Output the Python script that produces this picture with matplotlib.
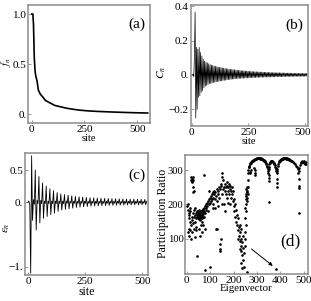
import matplotlib
matplotlib.use("Agg")
import matplotlib.pyplot as plt
import matplotlib.transforms as mtransforms

plt.rcParams['font.family'] = ['Liberation Serif', 'DejaVu Serif']
plt.rcParams['mathtext.fontset'] = 'stix'

# ---------------- data ----------------
# (a) f_n versus site
sites_a = [0, 5, 8, 12, 16, 20, 25, 31, 40, 52, 65, 87, 110, 135, 165, 197, 230, 268, 320, 380, 450, 500, 550]
f_a = [1.0, 1.0, 0.9, 0.55, 0.42, 0.37, 0.33, 0.24, 0.20, 0.17, 0.135, 0.11, 0.085, 0.073, 0.058,
       0.047, 0.038, 0.031, 0.025, 0.02, 0.015, 0.012, 0.01]

# (b) C_n versus site (sampled every 3 sites)
sites_b = list(range(0, 511, 3))
c_b = [0.0, 0.0, 0.005, -0.01, 0.10, 0.365, -0.25, 0.16, -0.20, 0.15, -0.13, 0.16, -0.12, 0.13,
       -0.10, 0.11, -0.09, 0.09, -0.075, 0.08, -0.065, 0.075, -0.06, 0.07, -0.055, 0.065, -0.05,
       0.06, -0.05, 0.058, -0.046, 0.055, -0.044, 0.052, -0.042, 0.05, -0.04, 0.048, -0.038,
       0.046, -0.037, 0.044, -0.035, 0.043, -0.034, 0.041, -0.032, 0.04, -0.031, 0.038, -0.03,
       0.037, -0.028, 0.035, -0.027, 0.034, -0.026, 0.033, -0.025, 0.032, -0.024, 0.031, -0.023,
       0.03, -0.022, 0.029, -0.021, 0.028, -0.021, 0.027, -0.02, 0.026, -0.02, 0.025, -0.019,
       0.025, -0.019, 0.024, -0.018, 0.023, -0.018, 0.023, -0.017, 0.022, -0.017, 0.021, -0.016,
       0.021, -0.016, 0.02, -0.015, 0.02, -0.015, 0.019, -0.015, 0.019, -0.014, 0.018, -0.014,
       0.018, -0.014, 0.017, -0.013, 0.017, -0.013, 0.016, -0.013, 0.016, -0.012, 0.016, -0.012,
       0.015, -0.012, 0.015, -0.012, 0.015, -0.011, 0.014, -0.011, 0.014, -0.011, 0.014, -0.011,
       0.013, -0.01, 0.013, -0.01, 0.013, -0.01, 0.013, -0.01, 0.012, -0.01, 0.012, -0.0095,
       0.012, -0.0095, 0.012, -0.009, 0.011, -0.009, 0.011, -0.009, 0.011, -0.009, 0.011, -0.0085,
       0.01, -0.0085, 0.01, -0.0085, 0.01, -0.008, 0.01, -0.008, 0.0095, -0.008, 0.0095, -0.008,
       0.0095, -0.0075, 0.009, -0.0075, 0.009, -0.0075, 0.009, -0.007, 0.009, -0.007, 0.0085, -0.007]

# (c) epsilon_n versus site (sampled every 4 sites)
sites_c = list(range(0, 521, 4))
eps_c = [0.0, 0.02, -0.04, -1.10, 0.72, -0.28, 0.04, -0.03,
         0.50, -0.43, 0.03, -0.02, 0.40, -0.32, 0.03, -0.02,
         0.30, -0.25, 0.02, -0.02, 0.25, -0.22, 0.02, -0.02,
         0.21, -0.19, 0.02, -0.02, 0.18, -0.17, 0.02, -0.02,
         0.15, -0.14, 0.02, -0.02, 0.13, -0.12, 0.02, -0.02,
         0.12, -0.11, 0.02, -0.015, 0.11, -0.10, 0.015, -0.015,
         0.10, -0.09, 0.015, -0.015, 0.09, -0.08, 0.015, -0.015,
         0.085, -0.075, 0.015, -0.015, 0.08, -0.07, 0.015, -0.015,
         0.075, -0.065, 0.015, -0.015, 0.07, -0.06, 0.015, -0.015,
         0.068, -0.058, 0.015, -0.015, 0.065, -0.055, 0.015, -0.015,
         0.062, -0.052, 0.015, -0.015, 0.06, -0.05, 0.015, -0.015,
         0.058, -0.048, 0.015, -0.015, 0.056, -0.046, 0.015, -0.015,
         0.055, -0.045, 0.015, -0.015, 0.053, -0.044, 0.015, -0.015,
         0.052, -0.043, 0.015, -0.015, 0.05, -0.042, 0.015, -0.015,
         0.05, -0.041, 0.015, -0.015, 0.048, -0.04, 0.015, -0.015,
         0.047, -0.04, 0.015, -0.015, 0.046, -0.039, 0.015, -0.015,
         0.045, -0.038, 0.015]

# (d) participation ratio versus eigenvector index
eig_d = [2, 4, 5, 6, 7, 8, 9, 10, 11, 12, 13, 14, 15, 16, 17, 18, 19, 20, 21, 22, 23, 24, 25, 26, 27,
         28, 29, 30, 31, 32, 33, 34, 35, 36, 37, 38, 39, 40, 42, 43, 44, 22, 26, 28,
         45, 46, 47, 48, 49, 50, 51, 52, 53, 54, 55, 56, 57, 58, 59, 60, 61, 62, 63, 64, 65, 66, 67,
         68, 69, 70, 71, 72, 73, 74, 75, 76, 77, 78, 79, 80, 50, 55, 60, 65,
         82, 84, 86, 88, 90, 92, 94, 96, 98, 100, 101, 102, 104, 106, 108, 110, 112, 114, 116, 118,
         120, 122, 124, 126, 128, 130, 132, 134, 136, 138, 140, 142, 144, 146, 148, 150, 151, 152,
         154, 156, 158, 160, 162, 164, 166, 168, 170, 172, 174, 176, 178, 180, 182, 184, 186, 188,
         190, 192, 194, 196, 198, 200, 96, 110, 120, 135, 145, 141, 130, 150, 165, 175, 185,
         202, 204, 206, 208, 210, 212, 214, 216, 218, 220, 222, 224, 226, 228, 230, 232, 234, 236,
         238, 240, 242, 236, 230, 226, 220, 228, 232, 240, 244,
         246, 248, 249, 250, 251, 252, 253, 254, 255, 256, 257, 258, 259, 260, 261, 262, 263, 264,
         265, 252, 254, 256, 258, 250, 253,
         266, 268, 270, 272, 274, 276, 278, 280, 282, 284, 286, 288, 290, 292, 294, 296, 298, 300,
         302, 304, 306, 308, 310, 312, 314, 316, 318, 320, 322, 324, 326, 328, 330, 332, 334, 336,
         338, 340, 342, 344, 346, 348, 350, 352, 354, 356, 358, 360, 362, 364, 366, 368, 370, 372,
         374, 376, 378, 380, 382, 384, 386, 388, 390, 392, 394, 396, 398, 400, 402, 404, 406, 408,
         410, 412, 414, 416, 418, 420, 422, 424, 426, 428, 430, 432, 434, 436, 438, 440, 444, 448,
         452, 456, 460, 464, 468, 472, 476, 479, 482, 485, 488, 491, 494, 497, 500, 503, 506, 509, 512,
         349, 350, 351, 352, 350, 386, 387, 386, 388, 478, 479, 480, 479, 480,
         288, 290, 291, 293, 270, 272, 274, 380]
pr_d = [195, 185, 200, 120, 170, 160, 130, 175, 110, 190, 150, 125, 180, 140, 280, 270, 100, 165,
        275, 155, 265, 120, 280, 250, 175, 145, 240, 130, 185, 165, 105, 170, 150, 190, 135, 160,
        175, 125, 50, 180, 165, 268, 272, 235,
        170, 160, 175, 165, 180, 158, 172, 162, 185, 168, 155, 178, 165, 170, 160, 182, 168, 175,
        160, 185, 170, 150, 178, 165, 188, 172, 140, 180, 285, 165, 190, 10, 175, 195, 130, 185,
        130, 110, 140, 120,
        200, 190, 205, 195, 210, 180, 215, 200, 220, 205, 18, 225, 210, 230, 215, 235, 220, 200,
        230, 240, 215, 235, 130, 225, 245, 210, 240, 230, 250, 220, 70, 245, 85, 255, 260, 290,
        280, 230, 270, 245, 250, 200, 240, 260, 230, 250, 220, 255, 265, 240, 250, 230, 260, 255,
        245, 240, 220, 250, 230, 210, 240, 195, 240, 190, 190, 195, 100, 65, 130, 200, 180, 205, 200,
        215, 180, 200, 165, 185, 150, 170, 140, 125, 160, 110, 135, 95, 120, 80, 100, 65, 90,
        55, 75, 40, 15, 30, 140, 100, 70, 130, 110, 60,
        20, 80, 120, 160, 100, 200, 140, 230, 180, 5, 220, 250, 240, 270, 230, 290, 300, 250,
        310, 215, 225, 210, 235, 190, 245,
        308, 313, 316, 319, 321, 323, 325, 326, 327, 328, 329, 330, 331, 331, 332, 333, 333, 334,
        334, 335, 334, 335, 334, 334, 333, 334, 333, 332, 332, 331, 330, 329, 328, 327, 325, 323,
        320, 317, 313, 308, 303, 298, 302, 310, 316, 320, 323, 325, 326, 326, 325, 324, 322, 320,
        317, 314, 310, 306, 302, 298, 296, 304, 312, 318, 322, 325, 327, 329, 330, 331, 332, 333,
        333, 334, 334, 335, 334, 335, 334, 334, 333, 334, 333, 332, 332, 331, 330, 330, 328, 327,
        325, 323, 320, 317, 313, 308, 302, 296, 305, 314, 320, 324, 326, 324, 321, 325, 318, 322, 316,
        292, 285, 278, 268, 208, 290, 275, 262, 252, 290, 275, 255, 248, 174,
        306, 300, 292, 286, 295, 290, 300, 14]

# ---------------- figure ----------------
W, H = 311, 301
fig = plt.figure(figsize=(W / 100, H / 100), dpi=100)

def box(x0, y0, x1, y1):
    return [x0 / W, 1 - y1 / H, (x1 - x0) / W, (y1 - y0) / H]

frame_col = '#8c8c8c'
TICK_FS = 8

def style(ax):
    for s in ax.spines.values():
        s.set_color(frame_col)
        s.set_linewidth(1.1)
    ax.tick_params(direction='in', length=2, width=0.6, color=frame_col,
                   labelsize=TICK_FS, pad=1.5, top=False, right=False)

# (a)
axa = fig.add_axes(box(28, 5, 150, 123))
axa.plot(sites_a, f_a, color='black', lw=1.2)
axa.set_xlim(-18, 561)
axa.set_ylim(-0.09, 1.09)
axa.set_xticks([0, 250, 500])
axa.set_yticks([0, 0.5, 1.0])
axa.set_yticklabels(['0.', '0.5', '1.0'])
axa.set_xlabel('site', fontsize=7.5, labelpad=0)
axa.set_ylabel(r'$f_n$', fontsize=7.5, va='center')
axa.yaxis.set_label_coords(-0.178, 0.517)
axa.text(0.96, 0.835, '(a)', transform=axa.transAxes, ha='right', va='center', fontsize=11)
style(axa)
axa.tick_params(axis='y', pad=1)

# (b)
axb = fig.add_axes(box(190.7, 5, 308, 126))
axb.plot(sites_b, c_b, color='black', lw=0.5)
axb.set_xlim(-4.4, 513)
axb.set_ylim(-0.296, 0.406)
axb.set_xticks([0, 250, 500])
axb.set_yticks([-0.2, 0, 0.2, 0.4])
axb.set_yticklabels(['\u22120.2', '0.', '0.2', '0.4'])
axb.set_xlabel('site', fontsize=7.5, labelpad=0)
axb.set_ylabel(r'$C_n$', fontsize=8, va='center')
axb.yaxis.set_label_coords(-0.25, 0.446)
axb.text(0.957, 0.83, '(b)', transform=axb.transAxes, ha='right', va='center', fontsize=11)
style(axb)
lab = axb.get_xticklabels()[-1]
lab.set_transform(lab.get_transform() + mtransforms.ScaledTranslation(-2 / 100, 0, fig.dpi_scale_trans))

# (c)
axc = fig.add_axes(box(25, 153, 148, 275))
axc.plot(sites_c, eps_c, color='black', lw=0.6)
axc.set_xlim(-13, 526)
axc.set_ylim(-1.127, 0.764)
axc.set_xticks([0, 250, 500])
axc.set_yticks([-1, 0, 0.5])
axc.set_yticklabels(['\u22121.', '0.', '0.5'])
axc.set_xlabel('site', fontsize=8.5, labelpad=0)
axc.set_ylabel(r'$\epsilon_n$', fontsize=8, va='center')
axc.yaxis.set_label_coords(-0.146, 0.385)
axc.text(0.976, 0.816, '(c)', transform=axc.transAxes, ha='right', va='center', fontsize=11)
style(axc)

# (d)
axd = fig.add_axes(box(185, 155, 308, 274))
axd.plot(eig_d, pr_d, 'o', color='black', ms=1.9, mew=0)
axd.set_xlim(-8, 519)
axd.set_ylim(-1.5, 343.5)
axd.set_xticks([0, 100, 200, 300, 400, 500])
axd.set_yticks([100, 200, 300])
axd.set_xlabel('Eigenvector', fontsize=7.8, labelpad=-0.5)
axd.set_ylabel('Participation Ratio', fontsize=8.5, va='center')
axd.yaxis.set_label_coords(-0.182, 0.51)
axd.annotate('', xy=(368, 22), xytext=(277, 71),
             arrowprops=dict(arrowstyle='-|>', color='black', lw=0.7,
                             mutation_scale=5, shrinkA=0, shrinkB=0))
axd.text(0.935, 0.277, '(d)', transform=axd.transAxes, ha='right', va='center', fontsize=12.5)
style(axd)
axd.tick_params(axis='y', labelsize=7.6, pad=1)

assert len(sites_b) == len(c_b)
assert len(sites_c) == len(eps_c)
assert len(eig_d) == len(pr_d)

fig.savefig('out.png', dpi=100)
